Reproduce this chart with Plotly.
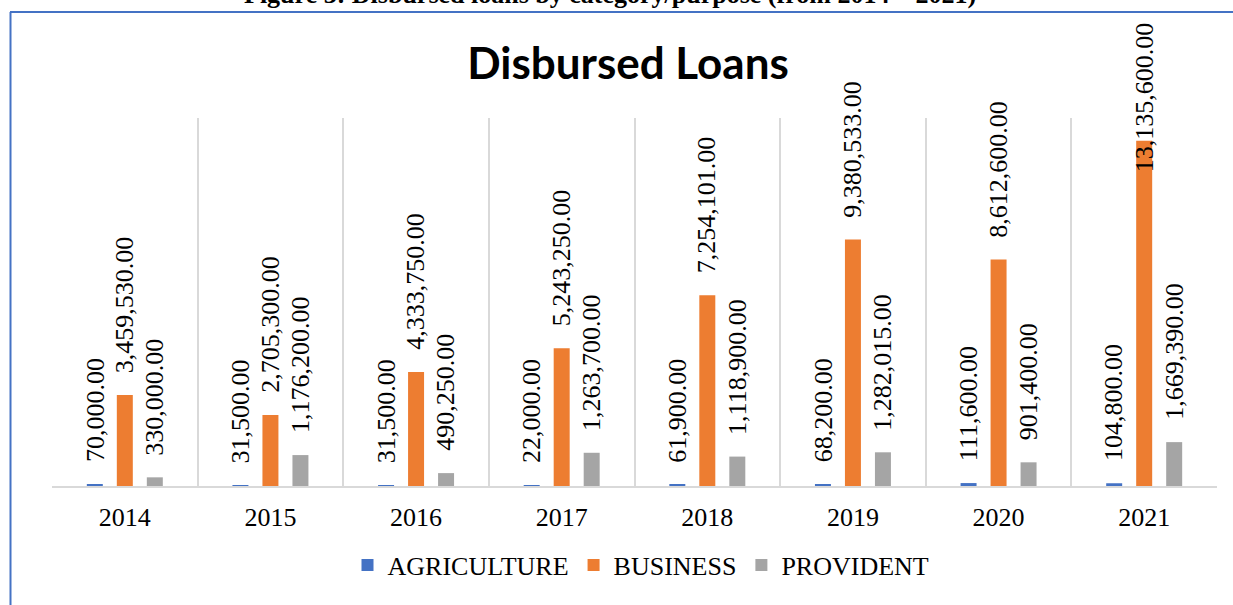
import plotly.graph_objects as go

# Disbursed loan amounts per year, by category/purpose
years = ["2014", "2015", "2016", "2017", "2018", "2019", "2020", "2021"]
agriculture = [70000, 31500, 31500, 22000, 61900, 68200, 111600, 104800]
business = [3459530, 2705300, 4333750, 5243250, 7254101, 9380533, 8612600, 13135600]
provident = [330000, 1176200, 490250, 1263700, 1118900, 1282015, 901400, 1669390]

series_names = ["AGRICULTURE", "BUSINESS", "PROVIDENT"]
series_values = [agriculture, business, provident]
series_colors = ["#4472C4", "#ED7D31", "#A5A5A5"]

caption = "Figure 3: Disbursed loans by category/purpose (from 2014 \u2013 2021)"
chart_title = "Disbursed Loans"

# Page / plot-area geometry (pixels)
W, H = 1233, 605
M_L, M_R, M_T, M_B = 52, 16, 118, 119
PLOT_W = W - M_L - M_R
PLOT_H = H - M_T - M_B
Y_MAX = 14_000_000

SERIF = "Liberation Serif, Times New Roman, serif"
LABEL_SIZE = 26
SLOT_PX = 30          # distance between bar centres inside a group
LABEL_GAP = 20        # gap between bar end and its label
TOP_LIMIT_PX = 20     # labels are kept below this page row


def px_to_paper_y(py):
    return (H - M_B - py) / PLOT_H


def px_to_paper_x(px):
    return (px - M_L) / PLOT_W


def text_len_px(s, size):
    # rough advance width of a Times numeric string
    return sum(0.25 * size if ch in ",." else 0.5 * size for ch in s)


fig = go.Figure()
for name, vals, col in zip(series_names, series_values, series_colors):
    fig.add_trace(go.Bar(name=name, x=years, y=vals, marker_color=col,
                         marker_line_width=0))

# Rotated value labels above each bar (x given as category index)
annotations = []
for i, vals in enumerate(series_values):
    for j, v in enumerate(vals):
        txt = f"{v:,.2f}"
        bar_top_px = H - M_B - v / Y_MAX * PLOT_H
        length = text_len_px(txt, LABEL_SIZE) + 4
        common = dict(x=j, xref="x", xshift=(i - 1) * SLOT_PX, text=txt,
                      textangle=-90, showarrow=False, xanchor="center",
                      font=dict(family=SERIF, size=LABEL_SIZE, color="#000000"))
        if bar_top_px - LABEL_GAP - length < TOP_LIMIT_PX:
            annotations.append(dict(y=px_to_paper_y(TOP_LIMIT_PX), yref="paper",
                                    yanchor="top", **common))
        else:
            annotations.append(dict(y=v, yref="y", yanchor="bottom",
                                    yshift=LABEL_GAP, **common))

# Document caption above the framed chart
annotations.append(dict(
    text=f"<b>{caption}</b>", x=px_to_paper_x(610), xref="paper",
    y=px_to_paper_y(11), yref="paper", yanchor="bottom", xanchor="center",
    showarrow=False, font=dict(family=SERIF, size=26, color="#000000")))

# Blue frame around the chart (left and top edges)
frame_color = "#4472C4"
shapes = [
    dict(type="line", xref="paper", yref="paper",
         x0=px_to_paper_x(10.5), x1=px_to_paper_x(10.5),
         y0=px_to_paper_y(12), y1=px_to_paper_y(H),
         line=dict(color=frame_color, width=2)),
    dict(type="line", xref="paper", yref="paper",
         x0=px_to_paper_x(10), x1=px_to_paper_x(W),
         y0=px_to_paper_y(12), y1=px_to_paper_y(12),
         line=dict(color=frame_color, width=2)),
]

fig.update_layout(
    width=W, height=H,
    margin=dict(l=M_L, r=M_R, t=M_T, b=M_B, pad=0),
    paper_bgcolor="white", plot_bgcolor="white",
    barmode="group", bargap=0.382, bargroupgap=0.467,
    title=dict(text=f"<b>{chart_title}</b>", x=628 / W, xanchor="center",
               y=1 - 64 / H, yanchor="middle", yref="container",
               font=dict(family="Lato, sans-serif", size=44, color="#000000")),
    xaxis=dict(type="category", range=[-0.5, 7.5], tickson="boundaries",
               showgrid=True, gridcolor="#D9D9D9", gridwidth=1.5,
               showline=True, linecolor="#D9D9D9", linewidth=2,
               ticks="", ticklabelstandoff=7,
               tickfont=dict(family=SERIF, size=26, color="#000000"),
               fixedrange=True),
    yaxis=dict(range=[0, Y_MAX], visible=False, showgrid=False,
               zeroline=False, fixedrange=True),
    legend=dict(orientation="h", x=px_to_paper_x(641), xanchor="center",
                y=px_to_paper_y(565), yanchor="middle", itemwidth=30,
                font=dict(family=SERIF, size=26, color="#000000"),
                bgcolor="rgba(0,0,0,0)"),
    annotations=annotations,
    shapes=shapes,
)

fig.write_html("out.html", config={"displayModeBar": False})
